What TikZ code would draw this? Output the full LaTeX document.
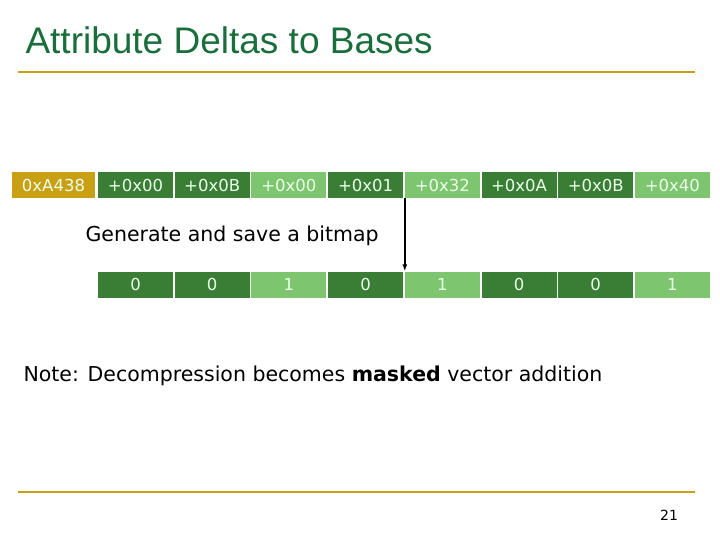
\documentclass[tikz,border=0pt]{standalone}
\usepackage{fontspec}
\setmainfont{DejaVu Sans}
\newfontfamily\titlefont{Liberation Sans}
\usetikzlibrary{arrows.meta}
\definecolor{darkgr}{HTML}{3A7D35}
\definecolor{lightgr}{HTML}{7DC56E}
\definecolor{gold}{HTML}{C9A013}
\definecolor{titlegr}{HTML}{1A6E3C}
\tikzset{
  cell/.style={minimum width=75pt, minimum height=26pt, inner sep=0pt, text=white!92!green,
    font=\fontsize{16.5}{19}\selectfont},
  rule/.style={gold, line width=2.5pt},
}
\begin{document}
\begin{tikzpicture}[x=1pt, y=-1pt, >=latex]
        \useasboundingbox[fill=white] (0,0) rectangle (720,540);

        \node[anchor=west, text=titlegr, font=\titlefont\fontsize{37}{42}\selectfont] (title) at (22,40) {Attribute Deltas to Bases};
        \draw[rule] (18,72) -- (695,72);
        \draw[rule] (18,492) -- (695,492);

        \node[cell, fill=gold, minimum width=83pt] (base) at (53.5,185) {0xA438};
        \foreach \lab/\bit [count=\i] in {+0x00/0, +0x0B/0, +0x00/1, +0x01/0, +0x32/1, +0x0A/0, +0x0B/0, +0x40/1} {
            \ifnum\bit=0 \def\col{darkgr}\else\def\col{lightgr}\fi
            \node[cell, fill=\col] (d\i) at ({135.5+(\i-1)*76.7},185) {\lab};
            \node[cell, fill=\col] (b\i) at ({135.5+(\i-1)*76.7},284.5) {\bit};
        }

        \draw[-{Latex[length=7pt,width=5pt]}, line width=1.6pt] (d4.south east) ++(1.5,0) coordinate (src) -- (src |- b4.north) coordinate (dst);

        \node[anchor=west, font=\fontsize{20.5}{24}\selectfont] (gen) at (82,236) {Generate and save a bitmap};
        \node[anchor=west, font=\fontsize{20.5}{24}\selectfont] (note) at (20,376) {Note: Decompression becomes \textbf{masked} vector addition};
        \node[font=\fontsize{14}{16}\selectfont] (pg) at (669,515) {21};
    \end{tikzpicture}
\end{document}
